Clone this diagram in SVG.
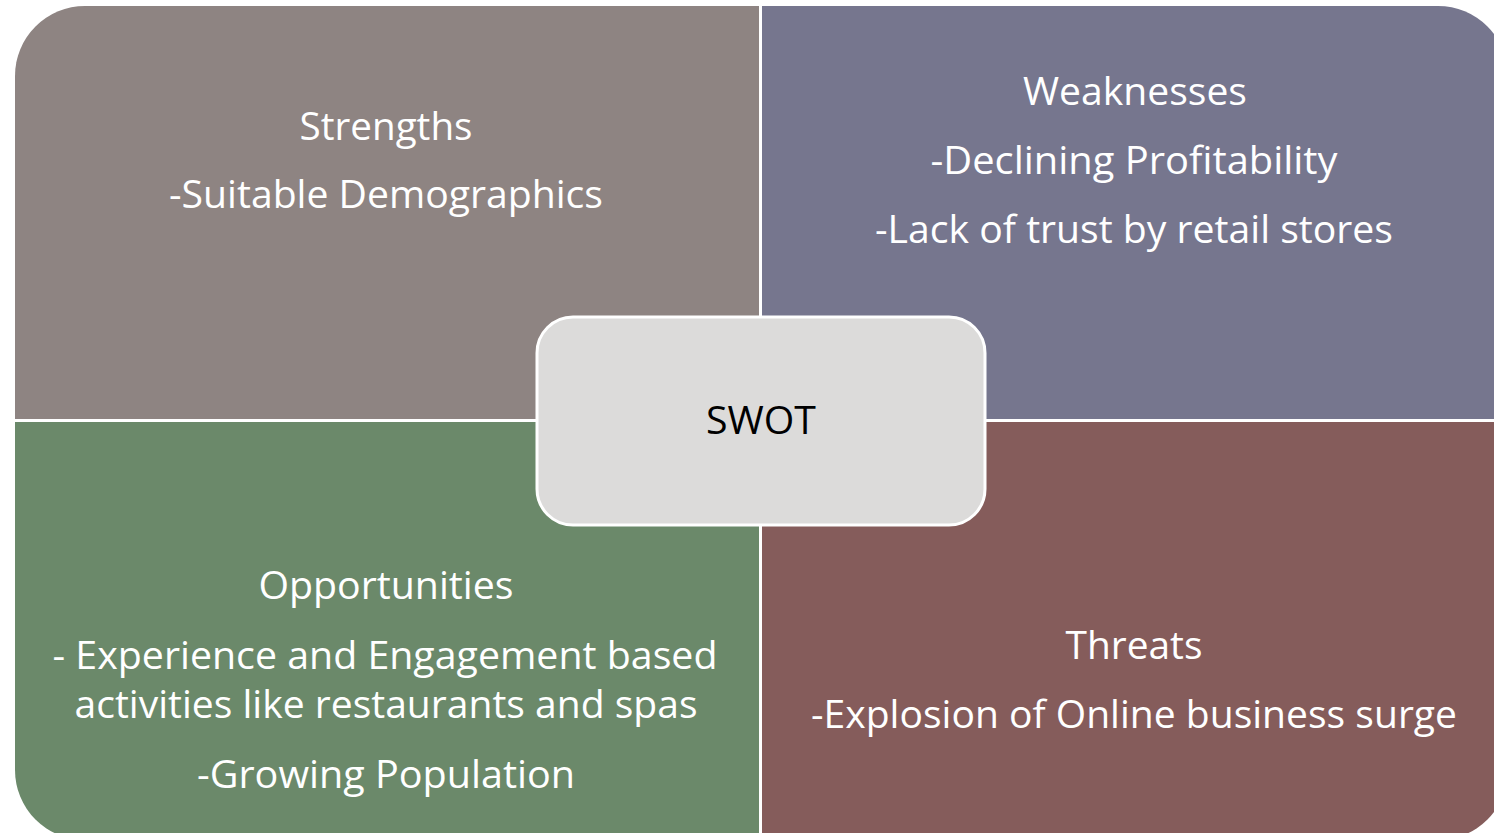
<svg xmlns="http://www.w3.org/2000/svg" width="1494" height="833" viewBox="0 0 1494 833">
  <style>
    .lbl { font-family: "Open Sans", "Noto Sans", "Liberation Sans", sans-serif; font-size: 39px; fill: #ffffff; text-anchor: middle; }
    .core { font-family: "Open Sans", "Noto Sans", "Liberation Sans", sans-serif; font-size: 39px; fill: #000000; text-anchor: middle; }
  </style>
  <rect x="0" y="0" width="1494" height="833" fill="#ffffff"/>

  <!-- Strengths quadrant (top left) -->
  <g id="strengths">
    <path d="M15,419 V76 A70,70 0 0 1 85,6 H759 V419 Z" fill="#8e8482"/>
    <text class="lbl" x="386" y="140" textLength="173" lengthAdjust="spacingAndGlyphs">Strengths</text>
    <text class="lbl" x="386" y="208" textLength="434" lengthAdjust="spacingAndGlyphs">-Suitable Demographics</text>
  </g>

  <!-- Weaknesses quadrant (top right) -->
  <g id="weaknesses">
    <path d="M762,6 H1438 A70,70 0 0 1 1508,76 V419 H762 Z" fill="#76768e"/>
    <text class="lbl" x="1135" y="105" textLength="224" lengthAdjust="spacingAndGlyphs">Weaknesses</text>
    <text class="lbl" x="1134" y="174" textLength="407" lengthAdjust="spacingAndGlyphs">-Declining Profitability</text>
    <text class="lbl" x="1134" y="243" textLength="518" lengthAdjust="spacingAndGlyphs">-Lack of trust by retail stores</text>
  </g>

  <!-- Opportunities quadrant (bottom left) -->
  <g id="opportunities">
    <path d="M15,422 H759 V840 H85 A70,70 0 0 1 15,770 Z" fill="#6b896a"/>
    <text class="lbl" x="386" y="599" textLength="255" lengthAdjust="spacingAndGlyphs">Opportunities</text>
    <text class="lbl" x="385" y="669" textLength="665" lengthAdjust="spacingAndGlyphs">- Experience and Engagement based</text>
    <text class="lbl" x="386" y="718" textLength="623" lengthAdjust="spacingAndGlyphs">activities like restaurants and spas</text>
    <text class="lbl" x="386" y="788" textLength="378" lengthAdjust="spacingAndGlyphs">-Growing Population</text>
  </g>

  <!-- Threats quadrant (bottom right) -->
  <g id="threats">
    <path d="M762,422 H1508 V770 A70,70 0 0 1 1438,840 H762 Z" fill="#855c5b"/>
    <text class="lbl" x="1134" y="659" textLength="137" lengthAdjust="spacingAndGlyphs">Threats</text>
    <text class="lbl" x="1134" y="728" textLength="646" lengthAdjust="spacingAndGlyphs">-Explosion of Online business surge</text>
  </g>

  <!-- central SWOT label -->
  <g id="swot">
    <rect x="537" y="317" width="448" height="208" rx="36" ry="36" fill="#dcdbda" stroke="#ffffff" stroke-width="3"/>
    <text class="core" x="761" y="434" textLength="110" lengthAdjust="spacingAndGlyphs">SWOT</text>
  </g>

  <g id="connectors"/>
</svg>
